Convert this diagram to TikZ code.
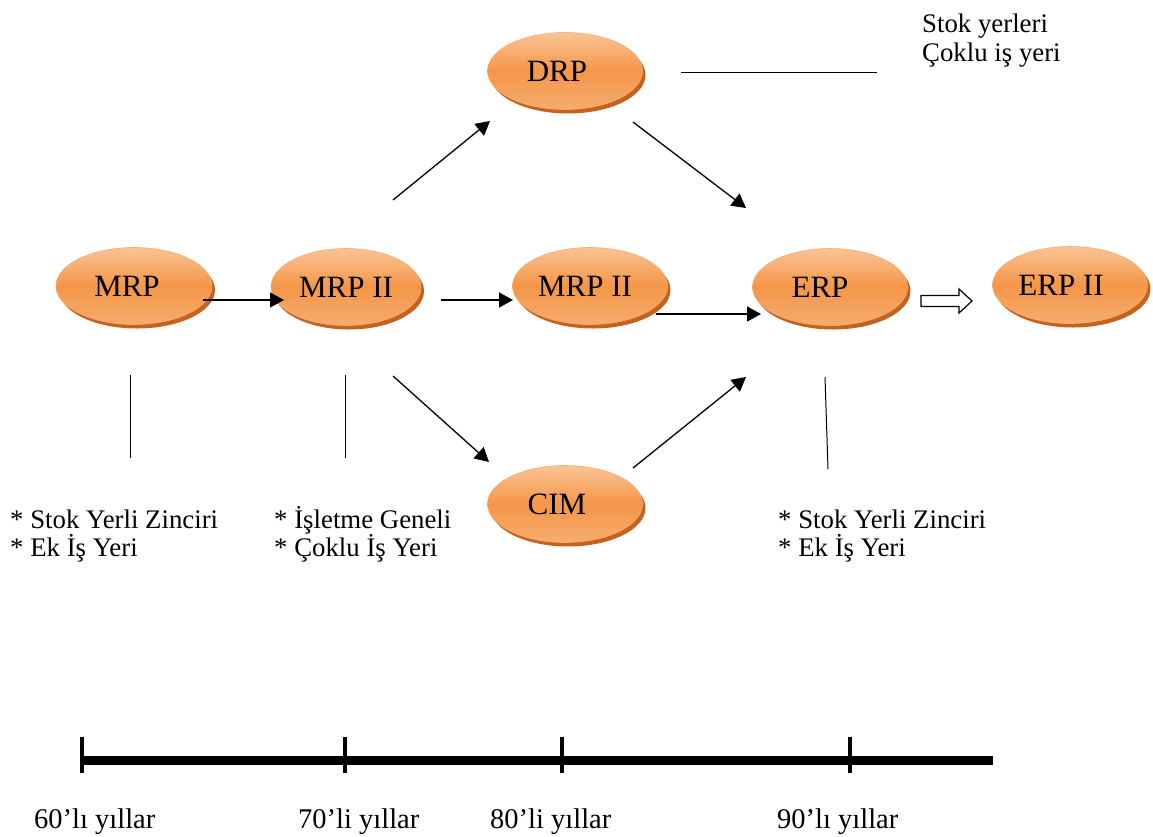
\documentclass[tikz,border=0pt]{standalone}
\usepackage{fontspec}
\setmainfont{Liberation Serif}
\usetikzlibrary{shapes.geometric,arrows.meta,shadows}
\definecolor{ortop}{RGB}{250,196,150}
\definecolor{ormid}{RGB}{244,150,72}
\definecolor{orbot}{RGB}{246,172,112}
\definecolor{orline}{RGB}{247,170,110}
\definecolor{orshadow}{RGB}{196,98,30}
\tikzset{
  blob/.style={ellipse, minimum width=155pt, minimum height=77pt, inner sep=0pt,
    top color=ortop, bottom color=orbot, middle color=ormid, draw=orline, line width=0.6pt,
    drop shadow={shadow xshift=3pt, shadow yshift=-4pt, fill=orshadow, opacity=1},
    font=\fontsize{31}{34}\selectfont},
  conn/.style={line width=1.3pt, -{Triangle[length=14pt,width=15pt]}},
  plain/.style={line width=1pt},
  lbl/.style={font=\fontsize{26.8}{29}\selectfont, anchor=base west, inner sep=0pt},
  yr/.style={font=\fontsize{28.5}{30}\selectfont, anchor=base west, inner sep=0pt},
  tl/.style={line width=9pt},
  tick/.style={line width=4.5pt}
}
\begin{document}
\begin{tikzpicture}[x=1pt,y=-1pt]
\useasboundingbox (0,0) rectangle (1153,836);
% nodes
\node[blob] (drp) at (565,71) {DRP\hspace*{16pt}};
\node[blob, minimum width=156pt] (mrp) at (134,286) {MRP\hspace*{14pt}};
\node[blob, minimum width=150pt] (mrp2) at (346,287) {MRP II};
\node[blob] (mrp2b) at (590,286) {MRP II\hspace*{10pt}};
\node[blob] (erp) at (830,287) {ERP\hspace*{20pt}};
\node[blob] (erp2) at (1070,285) {ERP II\hspace*{18pt}};
\node[blob] (cim) at (565,504) {CIM\hspace*{16pt}};
% coordinates for connector ends
\coordinate (a1) at (203,300); \coordinate (a2) at (284,300);
\coordinate (b1) at (441,300); \coordinate (b2) at (513,300);
\coordinate (c1) at (656,314); \coordinate (c2) at (761,314);
\coordinate (d1) at (393,200); \coordinate (d2) at (490,121);
\coordinate (e1) at (633,122); \coordinate (e2) at (746,208);
\coordinate (f1) at (393,376); \coordinate (f2) at (489,462);
\coordinate (g1) at (633,468); \coordinate (g2) at (746,377);
\draw[conn] (a1) -- (a2);
\draw[conn] (b1) -- (b2);
\draw[conn] (c1) -- (c2);
\draw[conn] (d1) -- (d2);
\draw[conn] (e1) -- (e2);
\draw[conn] (f1) -- (f2);
\draw[conn] (g1) -- (g2);
% hollow arrow
\coordinate (h) at (921,301);
\draw[line width=1.2pt, line join=miter] (h) ++(0,-5.5) -- ++(38,0) -- ++(0,-6.5) -- ++(13,12) -- ++(-13,12) -- ++(0,-6.5) -- ++(-38,0) -- cycle;
% plain lines
\coordinate (l1) at (681,72); \coordinate (l2) at (877,72);
\draw[plain] (l1) -- (l2);
\coordinate (v1a) at (130,375); \coordinate (v1b) at (130,458);
\coordinate (v2a) at (345,375); \coordinate (v2b) at (345,458);
\coordinate (v3a) at (825,377); \coordinate (v3b) at (828,469);
\draw[plain] (v1a) -- (v1b);
\draw[plain] (v2a) -- (v2b);
\draw[plain] (v3a) -- (v3b);
% texts
\node[lbl] (t0a) at (922,32) {Stok yerleri};
\node[lbl] (t0b) at (922,61) {Çoklu iş yeri};
\node[lbl] (t1a) at (10,528) {* Stok Yerli Zinciri};
\node[lbl] (t1b) at (10,556) {* Ek İş Yeri};
\node[lbl] (t2a) at (274,528) {* İşletme Geneli};
\node[lbl] (t2b) at (274,556) {* Çoklu İş Yeri};
\node[lbl] (t3a) at (778,528) {* Stok Yerli Zinciri};
\node[lbl] (t3b) at (778,556) {* Ek İş Yeri};
% timeline
\coordinate (tl1) at (80,760); \coordinate (tl2) at (993,760);
\draw[tl] (tl1) -- (tl2);
\foreach \x/\n in {82/k1,345/k2,562/k3,850/k4}{
  \coordinate (\n a) at (\x,737); \coordinate (\n b) at (\x,773);
  \draw[tick] (\n a) -- (\n b);
}
\node[yr] (y1) at (34,828) {60’lı yıllar};
\node[yr] (y2) at (298,828) {70’li yıllar};
\node[yr] (y3) at (490,828) {80’li yıllar};
\node[yr] (y4) at (777,828) {90’lı yıllar};
\end{tikzpicture}
\end{document}
